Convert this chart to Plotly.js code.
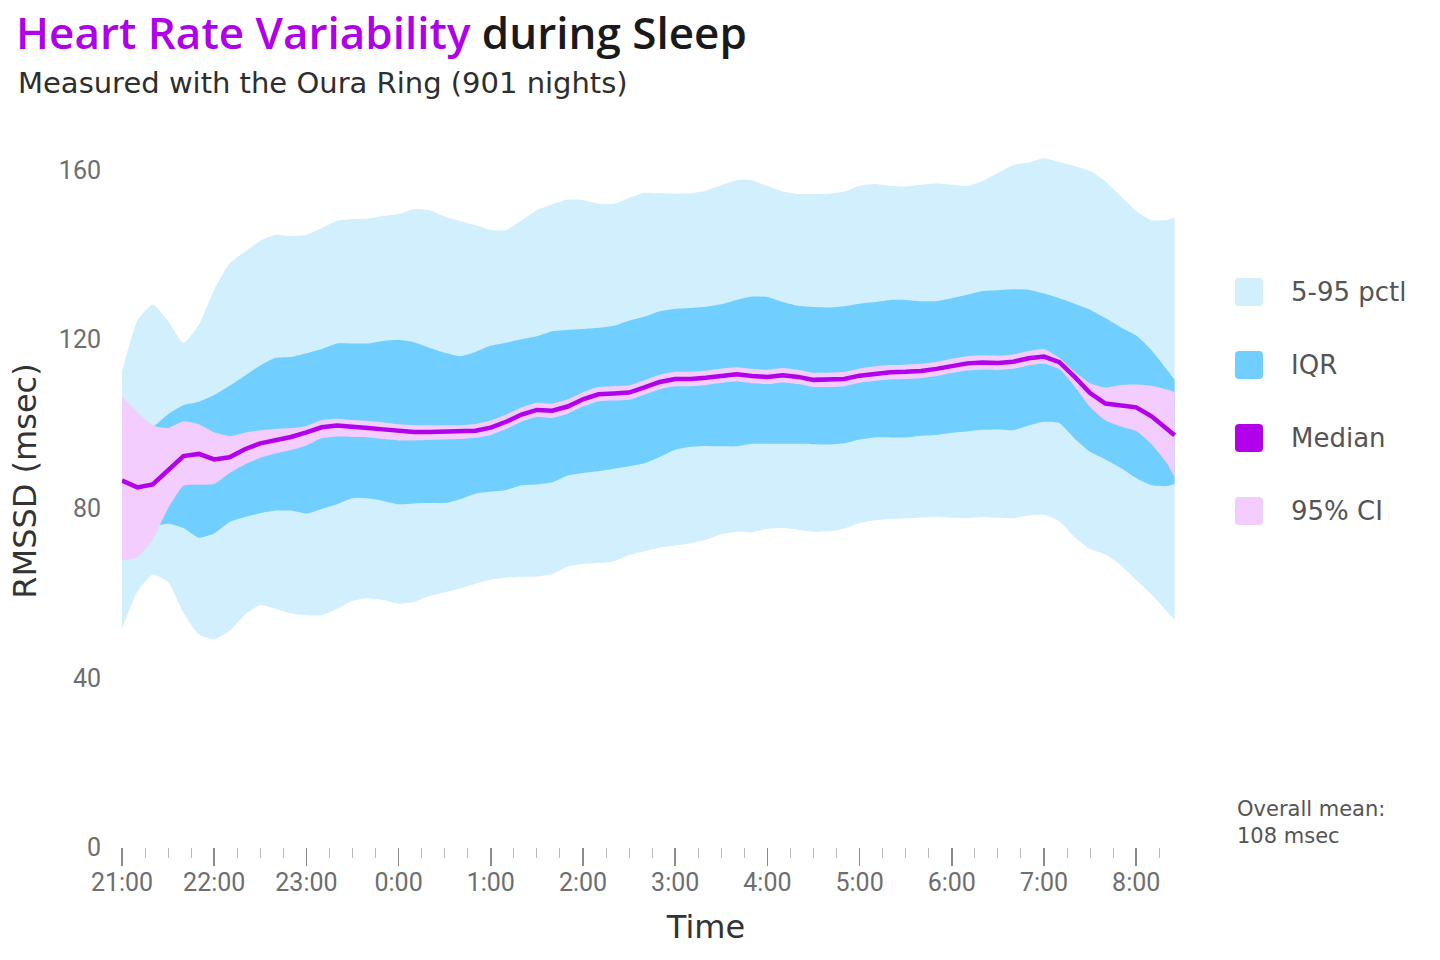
<!DOCTYPE html>
<html><head><meta charset="utf-8">
<script src="https://cdn.plot.ly/plotly-3.0.1.min.js"></script>
<style>html,body{margin:0;padding:0;background:#fff}#chart{width:1440px;height:960px}</style>
</head><body><div id="chart"></div>
<script>
// minutes after 21:00
const times = [0,10,20,30,40,50,60,70,80,90,100,110,120,130,140,150,160,170,180,190,200,210,220,230,240,250,260,270,280,290,300,310,320,330,340,350,360,370,380,390,400,410,420,430,440,450,460,470,480,490,500,510,520,530,540,550,560,570,580,590,600,610,620,630,640,650,660,670,680,685];

const p95 = [112.4,124.4,128.2,124.3,119.1,123.4,131.7,137.9,140.7,143.3,
 144.7,144.4,144.7,146.3,148.0,148.4,148.5,149.1,149.6,150.7,
 150.5,149.0,147.9,147.0,145.8,145.8,148.1,150.5,151.9,153.0,
 152.9,152.0,152.0,153.4,154.6,154.5,154.4,154.5,155.1,156.4,
 157.6,157.6,156.2,154.9,154.3,154.3,154.4,154.9,156.3,156.7,
 156.2,156.1,156.5,156.8,156.5,156.2,157.4,159.3,161.2,161.8,
 162.8,161.9,160.9,159.8,157.3,153.8,150.3,148.1,148.2,148.8];

const q75 = [95.5,97.5,99.2,102.3,104.4,105.2,106.8,109.0,111.4,113.8,
 115.6,115.8,116.7,117.7,119.0,119.0,119.0,119.6,119.8,119.3,
 118.0,116.8,116.0,117.0,118.5,119.2,120.0,120.7,121.9,122.2,
 122.4,122.7,123.2,124.4,125.3,126.6,127.2,127.4,127.7,128.3,
 129.3,130.1,130.0,128.8,127.9,127.6,127.5,127.8,128.4,128.8,
 129.3,129.3,129.0,129.0,129.7,130.5,131.4,131.6,131.8,131.7,
 130.8,129.7,128.4,127.0,125.0,122.8,120.9,117.4,112.8,110.4];

const median = [86.6,85.0,85.7,89.0,92.4,92.9,91.6,92.1,94.0,95.4,
 96.2,96.9,98.0,99.2,99.6,99.4,99.0,98.7,98.4,98.1,
 98.1,98.2,98.2,98.4,99.1,100.5,102.2,103.3,103.1,104.1,
 105.8,107.0,107.2,107.4,108.6,109.9,110.6,110.6,110.9,111.4,
 111.7,111.3,111.1,111.5,111.1,110.4,110.4,110.6,111.4,111.9,
 112.2,112.3,112.5,113.0,113.7,114.3,114.5,114.4,114.7,115.5,
 115.9,114.6,111.1,107.3,104.8,104.3,103.9,101.8,98.9,97.3];

const ciHigh = [106.5,102.8,99.6,99.0,100.6,99.9,98.0,97.1,97.9,98.5,
 98.8,99.0,99.5,100.9,101.2,100.9,100.7,100.4,99.9,99.7,
 99.7,99.7,99.7,100.0,100.8,102.2,103.9,105.0,104.8,105.8,
 107.5,108.7,108.9,109.1,110.3,111.6,112.3,112.3,112.6,113.1,
 113.4,113.0,112.8,113.2,112.8,112.1,112.1,112.3,113.1,113.6,
 113.9,114.0,114.2,114.7,115.4,116.0,116.2,116.1,116.4,117.2,
 117.7,115.6,112.3,109.6,108.6,109.2,109.3,109.0,108.1,107.5];

const ciLow = [67.7,68.5,72.7,80.0,85.4,85.6,85.8,88.4,90.4,92.0,
 93.0,93.8,94.9,96.6,97.0,96.9,96.8,96.4,96.1,96.1,
 96.2,96.3,96.4,96.7,97.4,98.8,100.5,101.6,101.4,102.4,
 104.1,105.3,105.5,105.7,106.9,108.2,108.9,108.9,109.2,109.7,
 110.0,109.6,109.4,109.8,109.4,108.7,108.7,108.9,109.7,110.2,
 110.5,110.6,110.8,111.3,112.0,112.6,112.8,112.7,113.0,113.8,
 114.2,112.9,108.8,104.0,100.8,99.4,98.3,95.2,90.7,87.3];

const q25 = [77.0,76.5,75.8,76.4,75.4,73.1,74.1,76.8,78.0,78.9,
 79.5,79.5,78.8,79.9,81.0,82.4,82.4,81.8,81.0,81.2,
 81.3,81.3,82.2,83.5,84.0,84.4,85.5,85.7,86.2,87.8,
 88.4,88.8,89.4,90.0,90.7,92.2,93.9,94.6,94.8,94.7,
 94.7,95.3,95.3,95.3,95.3,95.2,95.1,95.4,96.3,96.8,
 96.8,96.8,97.2,97.4,97.9,98.2,98.6,98.7,98.5,99.6,
 100.5,100.2,96.5,93.4,91.6,89.6,87.2,85.5,85.3,85.8];

const p5 = [51.6,60.4,64.4,62.6,55.4,50.2,49.1,51.1,54.9,57.2,
 56.3,55.2,54.8,54.8,56.3,58.2,58.8,58.4,57.5,57.9,
 59.3,60.2,61.1,62.2,63.2,63.7,63.8,63.9,64.5,66.3,
 66.9,67.1,67.5,69.0,69.9,70.8,71.2,71.8,72.6,73.9,
 74.5,74.4,75.2,75.4,75.0,74.5,74.6,75.3,76.6,77.2,
 77.5,77.7,77.9,78.0,77.8,77.7,78.0,77.8,77.7,78.4,
 78.5,77.0,73.2,70.4,69.1,66.6,63.1,59.7,55.7,53.7];

const hourTickVals = [0,60,120,180,240,300,360,420,480,540,600,660];
const hourTickText = ['21:00','22:00','23:00','0:00','1:00','2:00','3:00','4:00','5:00','6:00','7:00','8:00'];
const quarterTickVals = [0,15,30,45,60,75,90,105,120,135,150,165,180,195,210,225,240,255,270,285,300,315,330,345,360,375,390,405,420,435,450,465,480,495,510,525,540,555,570,585,600,615,630,645,660,675];
const yTickVals = [0,40,80,120,160];

const legendNames = ['5-95 pctl','IQR','Median','95% CI'];
const overallMean = 108;
const nights = 901;

const FONT = '"DejaVu Sans", "Noto Sans", sans-serif';
const TITLEFONT = '"Open Sans", "Noto Sans", sans-serif';
const TICKFONT = 'Roboto, "Noto Sans", sans-serif';
const C95 = '#d1effd', CIQR = '#70cffe', CMED = '#b200ea', CCI = '#f2cdfd';
const legendColors = [C95, CIQR, CMED, CCI];

const band = (y, fill, name) => ({
  x: times, y: y, mode: 'lines', type: 'scatter',
  line: {width: 0, shape: 'spline', smoothing: 0.5},
  fill: fill ? 'tonexty' : 'none', fillcolor: fill || undefined,
  name: name, hoverinfo: 'skip', showlegend: false
});

const traces = [
  band(p5, null, 'p5'), band(p95, C95, '5-95 pctl'),
  band(q25, null, 'q25'), band(q75, CIQR, 'IQR'),
  band(ciLow, null, 'ci low'), band(ciHigh, CCI, '95% CI'),
  {x: times, y: median, mode: 'lines', type: 'scatter', name: 'Median',
   line: {color: CMED, width: 4.5}, showlegend: false}
];

// plot area in px: x 122..1290 (data ends at 1175), y 115..847
const L = 122, R = 1290, T = 115, B = 847;
const PX_PER_MIN = 92.2 / 60;
const PX_PER_UNIT = 677 / 160;
const xMax = (R - L) / PX_PER_MIN;
const yMax = (B - T) / PX_PER_UNIT;
const px2x = p => (p - L) / (R - L);
const px2y = p => (B - p) / (B - T);

function rsq(cx, cy, color) {
  return {type: 'path', xref: 'paper', yref: 'paper', xsizemode: 'pixel', ysizemode: 'pixel',
    xanchor: px2x(cx), yanchor: px2y(cy), fillcolor: color, line: {width: 0},
    path: 'M -10,-14 L 10,-14 Q 14,-14 14,-10 L 14,10 Q 14,14 10,14 L -10,14 Q -14,14 -14,10 L -14,-10 Q -14,-14 -10,-14 Z'};
}
const legY = [292, 365, 438, 511];
const shapes = legY.map((y, i) => rsq(1249, y, legendColors[i]));
const annotations = legY.map((y, i) => ({
  xref: 'paper', yref: 'paper', x: px2x(1289), y: px2y(y), xanchor: 'left', yanchor: 'middle',
  text: legendNames[i], showarrow: false, font: {family: FONT, size: 26, color: '#555'}
}));
annotations.push({xref: 'paper', yref: 'paper', x: px2x(16), y: px2y(83), xanchor: 'left', yanchor: 'middle',
  text: 'Measured with the Oura Ring (' + nights + ' nights)', showarrow: false,
  font: {family: FONT, size: 29, color: '#2e2e2e'}});
annotations.push({xref: 'paper', yref: 'paper', x: px2x(1235), y: px2y(822), xanchor: 'left', yanchor: 'middle',
  align: 'left', text: 'Overall mean:<br>' + overallMean + ' msec', showarrow: false,
  font: {family: FONT, size: 21, color: '#555'}});

const layout = {
  width: 1440, height: 960,
  margin: {l: L, r: 1440 - R, t: T, b: 960 - B},
  paper_bgcolor: '#fff', plot_bgcolor: '#fff',
  font: {family: FONT, size: 24, color: '#6e6e6e'},
  showlegend: false,
  title: {text: '<span style="color:#b000e8">Heart Rate Variability</span> during Sleep',
    xref: 'container', yref: 'container', x: 16 / 1440, xanchor: 'left', y: 1 - 34 / 960, yanchor: 'middle',
    font: {family: TITLEFONT, size: 44, color: '#1a1a1a', weight: 600}},
  xaxis: {range: [0, xMax], tickmode: 'array', tickvals: hourTickVals, ticktext: hourTickText,
    ticks: 'outside', ticklen: 18, tickwidth: 1.5, tickcolor: '#8c8c8c',
    showline: false, showgrid: false, zeroline: false, ticklabelstandoff: -5,
    tickfont: {family: TICKFONT, size: 25, color: '#6e6e6e'},
    minor: {tickmode: 'array', tickvals: quarterTickVals, ticks: 'outside', ticklen: 10, tickwidth: 1, tickcolor: '#bcbcbc', showgrid: false},
    title: {text: 'Time', standoff: 19, font: {family: FONT, size: 32, color: '#333'}}},
  yaxis: {range: [0, yMax], tickmode: 'array', tickvals: yTickVals, ticks: '',
    showline: false, showgrid: false, zeroline: false, ticklabelstandoff: 20,
    tickfont: {family: TICKFONT, size: 25, color: '#6e6e6e'},
    title: {text: 'RMSSD (msec)', standoff: 12, font: {family: FONT, size: 32, color: '#333'}}},
  shapes: shapes, annotations: annotations
};

Plotly.newPlot('chart', traces, layout, {displayModeBar: false, staticPlot: true});
</script></body></html>
